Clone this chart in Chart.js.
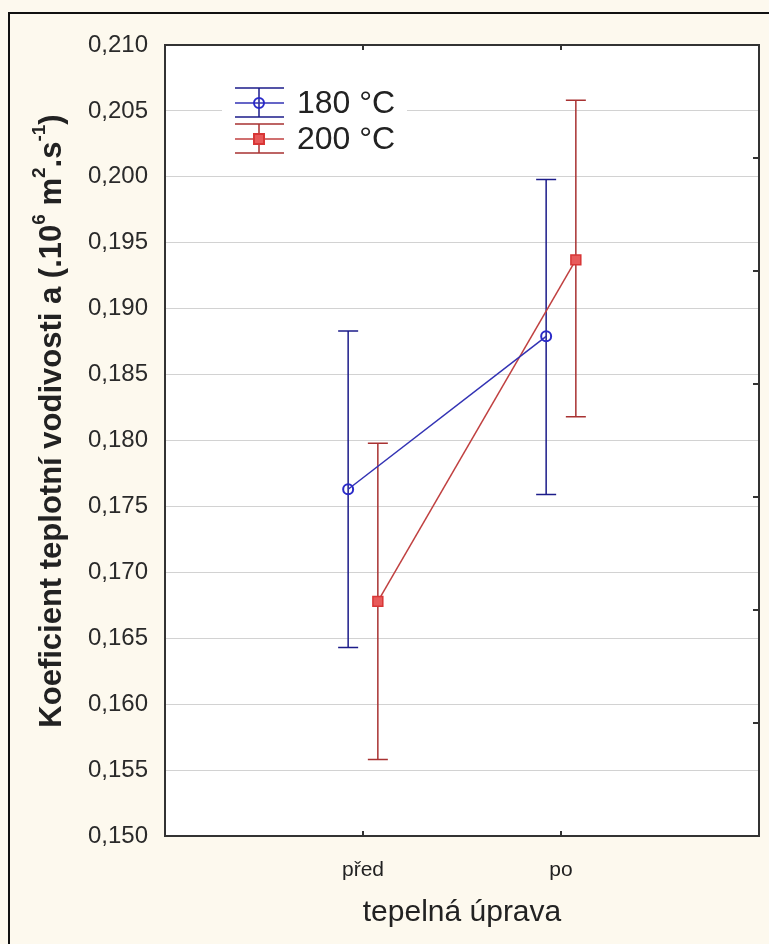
<!DOCTYPE html>
<html>
<head>
<meta charset="utf-8">
<script src="https://cdn.jsdelivr.net/npm/chart.js@4.4.1/dist/chart.umd.min.js"></script>
<style>
  html, body { margin: 0; padding: 0; background: #fdf9ee; }
  #wrap { width: 769px; height: 944px; }
</style>
</head>
<body>
<div id="wrap"><canvas id="chart" width="769" height="944"></canvas></div>
<script>
// data
const categories = ['před', 'po'];
const seriesNames = ['180 °C', '200 °C'];
const mean180 = [0.1763, 0.1879];
const low180 = [0.1643, 0.1759];
const high180 = [0.1883, 0.1998];
const mean200 = [0.1678, 0.1937];
const low200 = [0.1558, 0.1818];
const high200 = [0.1798, 0.2058];
const yTickValues = [0.150, 0.155, 0.160, 0.165, 0.170, 0.175, 0.180, 0.185, 0.190, 0.195, 0.200, 0.205, 0.210];
const yTitleParts = [['Koeficient teplotní vodivosti a (.10', false], ['6', true], [' m', false], ['2', true], ['.s', false], ['-1', true], [')', false]];
const xTitle = 'tepelná úprava';

const dodge = 0.075;
const BLUE = '#2a2ac8', BLUE_DARK = '#1c1c8a';
const RED = '#e85a5a', RED_DARK = '#a83232';

function pts(means, shift) {
  return means.map((v, i) => ({ x: i + 1 + shift, y: v }));
}

const decor = {
  id: 'decor',
  beforeDraw(chart) {
    const { ctx, chartArea: a } = chart;
    ctx.save();
    ctx.fillStyle = '#fdf9ee';
    ctx.fillRect(0, 0, chart.width, chart.height);
    ctx.fillStyle = '#ffffff';
    ctx.fillRect(a.left, a.top, a.right - a.left, a.bottom - a.top);
    ctx.restore();
  },
  beforeDatasetsDraw(chart) {
    const { ctx } = chart;
    const xs = chart.scales.x, ys = chart.scales.y;
    ctx.save();
    chart.data.datasets.forEach(ds => {
      ctx.strokeStyle = ds.errColor;
      ctx.lineWidth = 1.5;
      ds.data.forEach((p, i) => {
        const px = xs.getPixelForValue(p.x);
        const y1 = ys.getPixelForValue(ds.errLow[i]);
        const y2 = ys.getPixelForValue(ds.errHigh[i]);
        ctx.beginPath();
        ctx.moveTo(px, y1); ctx.lineTo(px, y2);
        ctx.moveTo(px - 10, y1); ctx.lineTo(px + 10, y1);
        ctx.moveTo(px - 10, y2); ctx.lineTo(px + 10, y2);
        ctx.stroke();
      });
    });
    ctx.restore();
  },
  afterDraw(chart) {
    const { ctx, chartArea: a } = chart;
    const xs = chart.scales.x, y2 = chart.scales.y2;
    ctx.save();
    // plot frame
    ctx.strokeStyle = '#333333';
    ctx.lineWidth = 2;
    ctx.strokeRect(a.left, a.top, a.right - a.left, a.bottom - a.top);
    // inward ticks
    ctx.beginPath();
    [1, 2].forEach(v => {
      const px = xs.getPixelForValue(v);
      ctx.moveTo(px, a.bottom); ctx.lineTo(px, a.bottom - 5);
      ctx.moveTo(px, a.top); ctx.lineTo(px, a.top + 5);
    });
    y2.ticks.forEach(t => {
      if (t.value <= 0 || t.value >= 7) return;
      const py = y2.getPixelForValue(t.value);
      ctx.moveTo(a.right, py); ctx.lineTo(a.right - 6, py);
    });
    ctx.stroke();
    // outer border
    ctx.strokeStyle = '#111111';
    ctx.beginPath();
    ctx.moveTo(9, chart.height); ctx.lineTo(9, 13); ctx.lineTo(chart.width, 13);
    ctx.stroke();

    // legend
    ctx.fillStyle = '#ffffff';
    ctx.fillRect(222, 76, 185, 86);
    chart.data.datasets.forEach((ds, k) => {
      const cy = 103 + k * 36;
      const cx = 259;
      ctx.strokeStyle = ds.errColor;
      ctx.lineWidth = 1.5;
      ctx.beginPath();
      ctx.moveTo(235, cy - 15); ctx.lineTo(284, cy - 15);
      ctx.moveTo(235, cy + 14); ctx.lineTo(284, cy + 14);
      ctx.moveTo(cx, cy - 15); ctx.lineTo(cx, cy + 14);
      ctx.stroke();
      ctx.strokeStyle = ds.borderColor;
      ctx.beginPath();
      ctx.moveTo(235, cy); ctx.lineTo(284, cy);
      ctx.stroke();
      ctx.lineWidth = 2;
      ctx.strokeStyle = ds.pointBorderColor;
      if (ds.pointStyle === 'circle') {
        ctx.beginPath(); ctx.arc(cx, cy, 5, 0, Math.PI * 2); ctx.stroke();
      } else {
        ctx.fillStyle = ds.pointBackgroundColor;
        ctx.fillRect(cx - 5, cy - 5, 10, 10);
        ctx.strokeRect(cx - 5, cy - 5, 10, 10);
      }
      ctx.fillStyle = '#222222';
      ctx.font = '32px "Liberation Sans", Arial, sans-serif';
      ctx.textAlign = 'left';
      ctx.textBaseline = 'middle';
      ctx.fillText(ds.label, 297, cy + 1);
    });

    // x title
    ctx.fillStyle = '#222222';
    ctx.font = '30px "Liberation Sans", Arial, sans-serif';
    ctx.textAlign = 'center';
    ctx.textBaseline = 'middle';
    ctx.fillText(xTitle, 462, 913);

    // y title with superscripts
    const size = 31;
    const big = 'bold ' + size + 'px "Liberation Sans", Arial, sans-serif';
    const small = 'bold ' + Math.round(size * 0.62) + 'px "Liberation Sans", Arial, sans-serif';
    let total = 0;
    yTitleParts.forEach(([t, sup]) => { ctx.font = sup ? small : big; total += ctx.measureText(t).width; });
    ctx.translate(52, 421);
    ctx.rotate(-Math.PI / 2);
    ctx.textAlign = 'left';
    ctx.textBaseline = 'middle';
    let x = -total / 2;
    yTitleParts.forEach(([t, sup]) => {
      ctx.font = sup ? small : big;
      ctx.fillText(t, x, sup ? -size * 0.38 : 0);
      x += ctx.measureText(t).width;
    });
    ctx.restore();
  }
};

new Chart(document.getElementById('chart'), {
  type: 'line',
  data: {
    datasets: [
      {
        label: seriesNames[0],
        data: pts(mean180, -dodge),
        errLow: low180, errHigh: high180, errColor: BLUE_DARK,
        borderColor: '#3232b4', borderWidth: 1.5,
        pointStyle: 'circle', pointRadius: 5, pointBorderWidth: 2,
        pointBorderColor: BLUE, pointBackgroundColor: 'rgba(255,255,255,0)'
      },
      {
        label: seriesNames[1],
        data: pts(mean200, dodge),
        errLow: low200, errHigh: high200, errColor: RED_DARK,
        borderColor: '#c04040', borderWidth: 1.5,
        pointStyle: 'rect', pointRadius: 7, pointBorderWidth: 1.5,
        pointBorderColor: '#d83636', pointBackgroundColor: RED
      }
    ]
  },
  options: {
    responsive: false,
    animation: false,
    devicePixelRatio: 1,
    layout: { padding: { left: 0, top: 45, right: 10, bottom: 0 } },
    plugins: { legend: { display: false }, tooltip: { enabled: false } },
    scales: {
      x: {
        type: 'linear',
        min: 0, max: 3,
        afterBuildTicks: s => { s.ticks = categories.map((c, i) => ({ value: i + 1 })); },
        afterFit: s => { s.height = 108; },
        ticks: {
          callback: v => categories[v - 1],
          font: { family: '"Liberation Sans", Arial, sans-serif', size: 21 },
          color: '#222222',
          padding: 14,
          maxRotation: 0
        },
        grid: { display: false },
        border: { display: false }
      },
      y: {
        min: yTickValues[0], max: yTickValues[yTickValues.length - 1],
        afterBuildTicks: s => { s.ticks = yTickValues.map(v => ({ value: v })); },
        afterFit: s => { s.width = 165; },
        ticks: {
          callback: v => v.toFixed(3).replace('.', ','),
          font: { family: '"Liberation Sans", Arial, sans-serif', size: 24 },
          color: '#2a2a2a',
          padding: 17
        },
        grid: { color: '#d2d2d2', lineWidth: 1, drawTicks: false },
        border: { display: false }
      },
      y2: {
        position: 'right',
        min: 0, max: 7,
        ticks: { display: false, stepSize: 1 },
        afterFit: s => { s.width = 0; },
        grid: { drawOnChartArea: false, drawTicks: false },
        border: { display: false }
      }
    }
  },
  plugins: [decor]
});
</script>
</body>
</html>
